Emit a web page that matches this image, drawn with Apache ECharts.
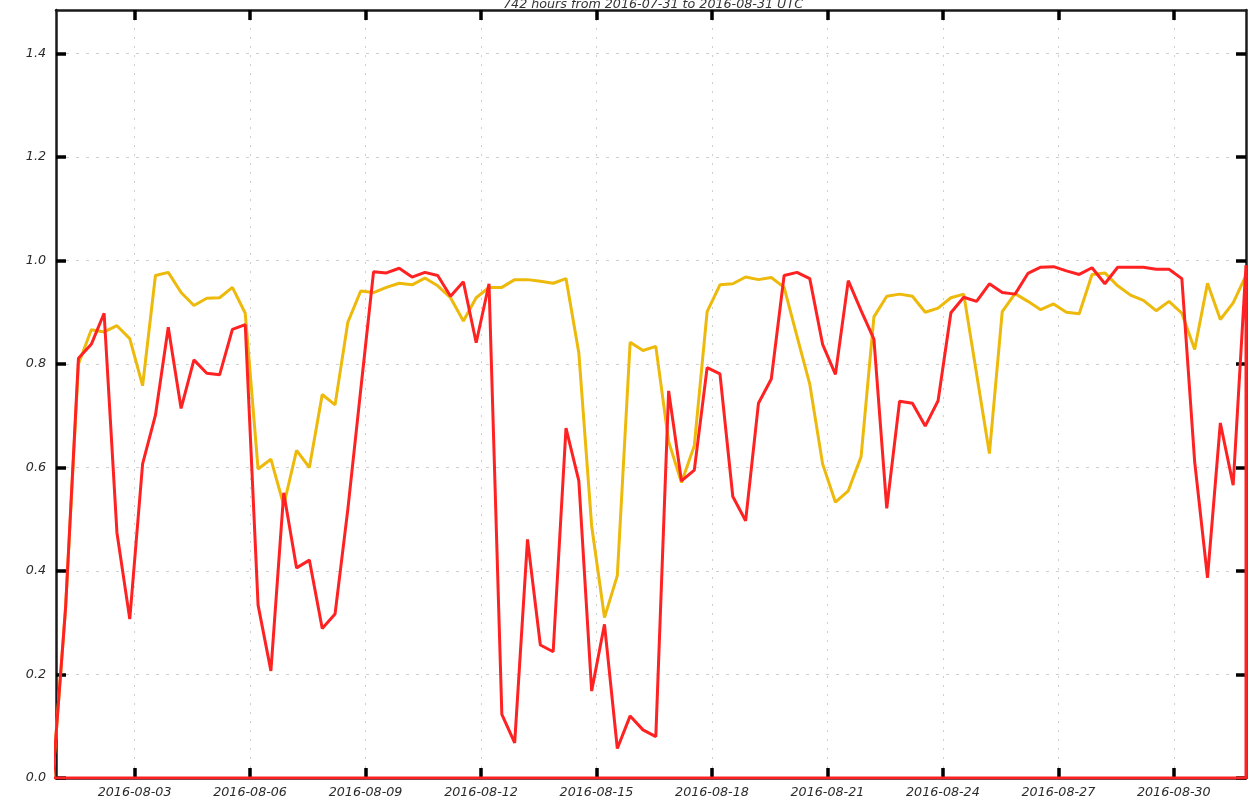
<!DOCTYPE html>
<html>
<head>
<meta charset="utf-8">
<script src="https://cdn.jsdelivr.net/npm/echarts@6/dist/echarts.min.js"></script>
<style>
html,body{margin:0;padding:0;background:#fff;}
#chart{width:1253px;height:804px;}
</style>
</head>
<body>
<div id="chart"></div>
<script>
const titleText = '742 hours from 2016-07-31 to 2016-08-31 UTC';
const firstSample = '2016-07-31T21:00:00Z';
const stepHours = 8;
const axisStart = '2016-07-31T23:00:00Z';
const axisEnd = '2016-08-31T21:00:00Z';
const xTickLabels = ['2016-08-03','2016-08-06','2016-08-09','2016-08-12','2016-08-15','2016-08-18','2016-08-21','2016-08-24','2016-08-27','2016-08-30'];
const yTickValues = [0, 0.2, 0.4, 0.6, 0.8, 1.0, 1.2, 1.4];

const yellowValues = [
  0, 0.33, 0.80, 0.866, 0.862, 0.874, 0.849, 0.758, 0.971, 0.977,
  0.938, 0.913, 0.927, 0.928, 0.948, 0.898, 0.597, 0.616, 0.527, 0.633,
  0.600, 0.741, 0.721, 0.881, 0.941, 0.938, 0.948, 0.956, 0.953, 0.966,
  0.951, 0.928, 0.883, 0.928, 0.948, 0.948, 0.963, 0.963, 0.960, 0.956,
  0.965, 0.821, 0.487, 0.310, 0.391, 0.842, 0.826, 0.834, 0.650, 0.571,
  0.642, 0.901, 0.953, 0.955, 0.968, 0.963, 0.967, 0.948, 0.854, 0.761,
  0.607, 0.533, 0.555, 0.621, 0.891, 0.931, 0.935, 0.931, 0.900, 0.908,
  0.928, 0.935, 0.781, 0.627, 0.901, 0.936, 0.921, 0.905, 0.916, 0.900,
  0.897, 0.973, 0.976, 0.951, 0.933, 0.923, 0.903, 0.921, 0.898, 0.828,
  0.956, 0.886, 0.918, 0.971
];
const redValues = [
  0, 0.33, 0.811, 0.838, 0.898, 0.474, 0.307, 0.607, 0.701, 0.871,
  0.714, 0.808, 0.782, 0.779, 0.867, 0.876, 0.334, 0.207, 0.551, 0.406,
  0.421, 0.289, 0.317, 0.520, 0.750, 0.978, 0.976, 0.985, 0.968, 0.977,
  0.971, 0.931, 0.959, 0.841, 0.955, 0.123, 0.068, 0.461, 0.257, 0.244,
  0.676, 0.574, 0.168, 0.297, 0.057, 0.120, 0.093, 0.080, 0.748, 0.574,
  0.595, 0.793, 0.781, 0.544, 0.497, 0.724, 0.771, 0.971, 0.977, 0.965,
  0.838, 0.780, 0.961, 0.903, 0.848, 0.521, 0.728, 0.724, 0.680, 0.729,
  0.899, 0.929, 0.921, 0.955, 0.938, 0.935, 0.975, 0.987, 0.988, 0.980,
  0.973, 0.986, 0.955, 0.987, 0.987, 0.987, 0.983, 0.983, 0.965, 0.611,
  0.387, 0.686, 0.566, 0.991
];

const t0 = Date.parse(firstSample);
const stepMs = stepHours * 3600 * 1000;
const xMin = Date.parse(axisStart);
const xMax = Date.parse(axisEnd);
const xTicks = xTickLabels.map(s => Date.parse(s + 'T00:00:00Z'));
const yMax = 1.484;

const yellowData = yellowValues.map((v, i) => [t0 + i * stepMs, v]);
const redData = redValues.map((v, i) => [t0 + i * stepMs, v]);
// red outline is drawn as a closed curve down to the baseline
redData.push([t0 + (redValues.length - 1) * stepMs, 0]);
redData.push([t0, 0]);

const fontFam = "'DejaVu Sans', sans-serif";
const fs = 12.7;
const frame = { show: true, onZero: false, lineStyle: { color: '#1a1a1a', width: 2.5 } };
const tick = { show: true, inside: true, length: 10, lineStyle: { color: '#000', width: 3.5 } };
const grid = { lineStyle: { color: '#cfcfcf', width: 1, type: [3, 7] } };

const chart = echarts.init(document.getElementById('chart'));
chart.setOption({
  animation: false,
  backgroundColor: '#fff',
  title: {
    text: titleText,
    left: 498,
    top: -7,
    textStyle: { fontFamily: fontFam, fontSize: fs, fontStyle: 'italic', fontWeight: 'normal', color: '#333' }
  },
  grid: { left: 56, right: 7, top: 10, bottom: 26, containLabel: false },
  xAxis: [
    {
      type: 'value', min: xMin, max: xMax, position: 'bottom',
      axisLine: frame,
      axisTick: Object.assign({}, tick, { customValues: xTicks }),
      axisLabel: {
        customValues: xTicks, margin: 8,
        fontFamily: fontFam, fontSize: fs, fontStyle: 'italic', color: '#2a2a2a',
        formatter: v => new Date(v).toISOString().slice(0, 10)
      },
      splitLine: { show: true, lineStyle: { color: '#cfcfcf', width: 1, type: [2, 7] } }
    },
    {
      type: 'value', min: xMin, max: xMax, position: 'top',
      axisLine: frame,
      axisTick: Object.assign({}, tick, { customValues: xTicks }),
      axisLabel: { show: false },
      splitLine: { show: false }
    }
  ],
  yAxis: [
    {
      type: 'value', min: 0, max: yMax, interval: 0.2, position: 'left',
      axisLine: frame,
      axisTick: Object.assign({}, tick, { customValues: yTickValues }),
      axisLabel: {
        customValues: yTickValues, margin: 10,
        fontFamily: fontFam, fontSize: fs, fontStyle: 'italic', color: '#2a2a2a',
        formatter: v => v.toFixed(1)
      },
      splitLine: Object.assign({ show: true }, grid)
    },
    {
      type: 'value', min: 0, max: yMax, interval: 0.2, position: 'right',
      axisLine: frame,
      axisTick: Object.assign({}, tick, { customValues: yTickValues }),
      axisLabel: { show: false },
      splitLine: { show: false }
    }
  ],
  series: [
    {
      name: 'yellow', type: 'line', data: yellowData, xAxisIndex: 0, yAxisIndex: 0,
      showSymbol: false, symbol: 'none', z: 3,
      lineStyle: { color: '#EDB90A', width: 3 }
    },
    {
      name: 'red', type: 'line', data: redData, xAxisIndex: 0, yAxisIndex: 0,
      showSymbol: false, symbol: 'none', z: 4,
      lineStyle: { color: '#FF2222', width: 3 }
    }
  ]
});
</script>
</body>
</html>
